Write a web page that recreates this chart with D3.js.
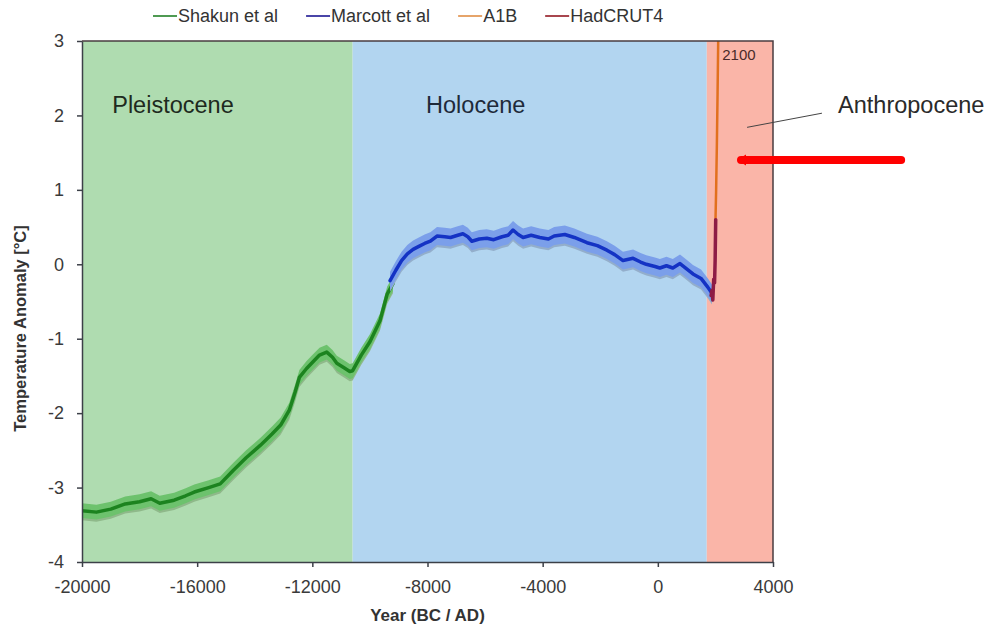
<!DOCTYPE html>
<html>
<head>
<meta charset="utf-8">
<script src="https://cdn.jsdelivr.net/npm/d3@7"></script>
<style>
  html, body { margin: 0; padding: 0; background: #fff; }
  svg { display: block; font-family: 'Liberation Sans', Arial, sans-serif; }
</style>
</head>
<body>
<div id="app"></div>
<script>
// 数据
const eraNames = ['Pleistocene', 'Holocene', 'Anthropocene']
const eraStart = [-20000, -10600, 1700]
const eraEnd = [-10600, 1700, 4000]

const shakunYears = [-20000, -19500, -19000, -18500, -18000, -17600, -17300, -16800, -16400, -16100, -15600, -15200, -14750, -14300, -13800, -13400, -13100, -12800, -12600, -12450, -12200, -12000, -11750, -11500, -11300, -11150, -10900, -10700, -10600, -10300, -10000, -9650, -9400, -9200]
const shakunTemp = [-3.31, -3.33, -3.29, -3.22, -3.19, -3.15, -3.21, -3.17, -3.11, -3.06, -3.0, -2.95, -2.77, -2.6, -2.43, -2.28, -2.16, -1.96, -1.72, -1.52, -1.4, -1.32, -1.22, -1.18, -1.25, -1.33, -1.39, -1.44, -1.43, -1.22, -1.04, -0.76, -0.4, -0.26]

const marcottYears = [-9300, -9100, -8900, -8700, -8500, -8300, -8100, -7900, -7670, -7400, -7200, -6950, -6770, -6600, -6460, -6200, -5940, -5700, -5410, -5200, -5030, -4850, -4680, -4400, -4100, -3800, -3600, -3230, -2900, -2460, -2100, -1770, -1500, -1210, -860, -600, -400, -100, 70, 300, 520, 770, 1000, 1220, 1500, 1740, 1880]
const marcottTemp = [-0.22, -0.08, 0.05, 0.14, 0.2, 0.24, 0.28, 0.31, 0.38, 0.37, 0.36, 0.39, 0.41, 0.37, 0.31, 0.34, 0.35, 0.33, 0.37, 0.39, 0.46, 0.4, 0.36, 0.39, 0.36, 0.34, 0.38, 0.4, 0.36, 0.29, 0.25, 0.19, 0.13, 0.05, 0.08, 0.03, 0.0, -0.03, -0.05, -0.02, -0.05, 0.01, -0.06, -0.13, -0.19, -0.31, -0.39]

const hadYears = [1850, 1880, 1910, 1940, 1970, 1990, 2010]
const hadTemp = [-0.42, -0.35, -0.48, -0.2, -0.25, 0.05, 0.6]

const a1bYears = [2000, 2025, 2050, 2075, 2100]
const a1bTemp = [0.55, 1.0, 1.6, 2.3, 3.1]

const xTicks = [-20000, -16000, -12000, -8000, -4000, 0, 4000]
const yTicks = [-4, -3, -2, -1, 0, 1, 2, 3]

const legendNames = ['Shakun et al', 'Marcott et al', 'A1B', 'HadCRUT4']

const _config = {
  width: 988,
  height: 628,
  margin: { top: 41, right: 215, bottom: 66, left: 82 },
  eraColor: ['#afdcb0', '#b2d5f0', '#fab5a8'],
  legendColor: ['#4f9a52', '#4a45a8', '#e6a46a', '#a8464e'],
  font: "'Liberation Sans', Arial, sans-serif",
}

const innerW = _config.width - _config.margin.left - _config.margin.right
const innerH = _config.height - _config.margin.top - _config.margin.bottom

const svg = d3.select('#app')
  .append('svg')
  .attr('width', _config.width)
  .attr('height', _config.height)

const g = svg.append('g')
  .attr('transform', `translate(${_config.margin.left}, ${_config.margin.top})`)

const xScale = d3.scaleLinear()
  .domain([-20000, 4000])
  .range([0, innerW])
const yScale = d3.scaleLinear()
  .domain([-4, 3])
  .range([innerH, 0])

svg.append('defs').append('clipPath')
  .attr('id', 'plot-clip')
  .append('rect')
  .attr('width', innerW)
  .attr('height', innerH)

// 背景分区
g.append('g')
  .selectAll('rect')
  .data(eraNames)
  .enter()
  .append('rect')
  .attr('x', (d, i) => xScale(eraStart[i]))
  .attr('y', 0)
  .attr('width', (d, i) => xScale(eraEnd[i]) - xScale(eraStart[i]))
  .attr('height', innerH)
  .attr('fill', (d, i) => _config.eraColor[i])

const plot = g.append('g').attr('clip-path', 'url(#plot-clip)')

function drawSeries(years, temps, { band = 0, bandColor, bandEdge, color, width }) {
  const pts = years.map((y, i) => [y, temps[i]])
  if (band) {
    // 下沿的灰色阴影
    plot.append('path')
      .attr('d', d3.area()
        .x(d => xScale(d[0]))
        .y0(d => yScale(d[1] - band - 0.03))
        .y1(d => yScale(d[1] + band - 0.03))(pts))
      .attr('fill', bandEdge)
    plot.append('path')
      .attr('d', d3.area()
        .x(d => xScale(d[0]))
        .y0(d => yScale(d[1] - band))
        .y1(d => yScale(d[1] + band))(pts))
      .attr('fill', bandColor)
  }
  plot.append('path')
    .attr('d', d3.line()
      .x(d => xScale(d[0]))
      .y(d => yScale(d[1]))(pts))
    .attr('fill', 'none')
    .attr('stroke', color)
    .attr('stroke-width', width)
    .attr('stroke-linejoin', 'round')
    .attr('stroke-linecap', 'round')
}

drawSeries(shakunYears, shakunTemp, { band: 0.1, bandColor: '#6dc26d', bandEdge: '#8fb98a', color: '#1c831f', width: 3.5 })
drawSeries(marcottYears, marcottTemp, { band: 0.12, bandColor: '#7b9fea', bandEdge: '#93aecb', color: '#1432c4', width: 3.5 })
drawSeries(a1bYears, a1bTemp, { color: '#e2701e', width: 2.5 })
drawSeries(hadYears, hadTemp, { color: '#8e1c45', width: 3.5 })

// 坐标轴
const xAxis = d3.axisBottom(xScale)
  .tickValues(xTicks)
  .tickSizeInner(5)
  .tickSizeOuter(0)
  .tickPadding(13)
  .tickFormat(d3.format('d'))
const yAxis = d3.axisLeft(yScale)
  .tickValues(yTicks)
  .tickSizeInner(5)
  .tickSizeOuter(0)
  .tickPadding(13)
  .tickFormat(d3.format('d'))

const gx = g.append('g')
  .attr('transform', `translate(0, ${innerH})`)
  .call(xAxis)
const gy = g.append('g')
  .call(yAxis)

;[gx, gy].forEach(a => {
  a.select('.domain').attr('stroke', '#3c4048').attr('stroke-width', 1.5)
  a.selectAll('.tick line').attr('stroke', '#3c4048').attr('stroke-width', 1.5)
  a.selectAll('.tick text')
    .attr('fill', '#3a3a3a')
    .style('font-family', _config.font)
    .style('font-size', '18px')
})
gx.selectAll('.tick text').text(d => d3.format('d')(d).replace('−', '-'))
gy.selectAll('.tick text').text(d => d3.format('d')(d).replace('−', '-'))

// 顶部和右侧边框
g.append('path')
  .attr('d', `M0,0H${innerW}V${innerH}`)
  .attr('fill', 'none')
  .attr('stroke', '#4a3c40')
  .attr('stroke-width', 1.5)

// 轴标题
svg.append('text')
  .attr('x', _config.margin.left + innerW / 2)
  .attr('y', 621)
  .attr('text-anchor', 'middle')
  .attr('font-weight', 'bold')
  .attr('font-size', '17px')
  .attr('fill', '#333')
  .text('Year (BC / AD)')
svg.append('text')
  .attr('transform', `translate(26, ${_config.margin.top + innerH / 2 + 27}) rotate(-90)`)
  .attr('text-anchor', 'middle')
  .attr('font-weight', 'bold')
  .attr('font-size', '16.5px')
  .attr('fill', '#333')
  .text('Temperature Anomaly [°C]')

// 分区名称
const eraLabelYear = [-18950, -8050, 6260]
g.append('g')
  .selectAll('text')
  .data(eraNames)
  .enter()
  .append('text')
  .attr('x', (d, i) => xScale(eraLabelYear[i]))
  .attr('y', yScale(2.03))
  .attr('font-size', '23.5px')
  .attr('fill', (d, i) => ['#1e2a1e', '#1e2a3a', '#2a2a2a'][i])
  .text(d => d)

// Anthropocene 指引线
g.append('line')
  .attr('x1', xScale(3100))
  .attr('y1', yScale(1.84))
  .attr('x2', xScale(5700))
  .attr('y2', yScale(2.03))
  .attr('stroke', '#444')
  .attr('stroke-width', 1)

// 2100 标注
g.append('text')
  .attr('x', xScale(2100) + 4)
  .attr('y', yScale(3) + 19)
  .attr('font-size', '15px')
  .attr('fill', '#4a2a2a')
  .text('2100')

// 红色箭头
const arrowY = yScale(1.4)
const arrowX1 = xScale(2750)
const arrowX2 = xScale(8450)
g.append('line')
  .attr('x1', arrowX1 + 4)
  .attr('y1', arrowY)
  .attr('x2', arrowX2)
  .attr('y2', arrowY)
  .attr('stroke', '#ff0000')
  .attr('stroke-width', 8)
  .attr('stroke-linecap', 'round')
g.append('path')
  .attr('d', `M${arrowX1},${arrowY}L${arrowX1 + 9},${arrowY - 5.5}L${arrowX1 + 9},${arrowY + 5.5}Z`)
  .attr('fill', '#ff0000')

// 图例
const legend = svg.append('g')
  .attr('transform', 'translate(153, 22)')
let lx = 0
legendNames.forEach((name, i) => {
  const item = legend.append('g').attr('transform', `translate(${lx}, 0)`)
  item.append('line')
    .attr('x1', 0)
    .attr('x2', 24)
    .attr('y1', -6)
    .attr('y2', -6)
    .attr('stroke', _config.legendColor[i])
    .attr('stroke-width', 2)
  const t = item.append('text')
    .attr('x', 25)
    .attr('font-size', '18px')
    .attr('fill', '#333')
    .text(name)
  lx += 25 + t.node().getComputedTextLength() + 28
})
</script>
</body>
</html>
